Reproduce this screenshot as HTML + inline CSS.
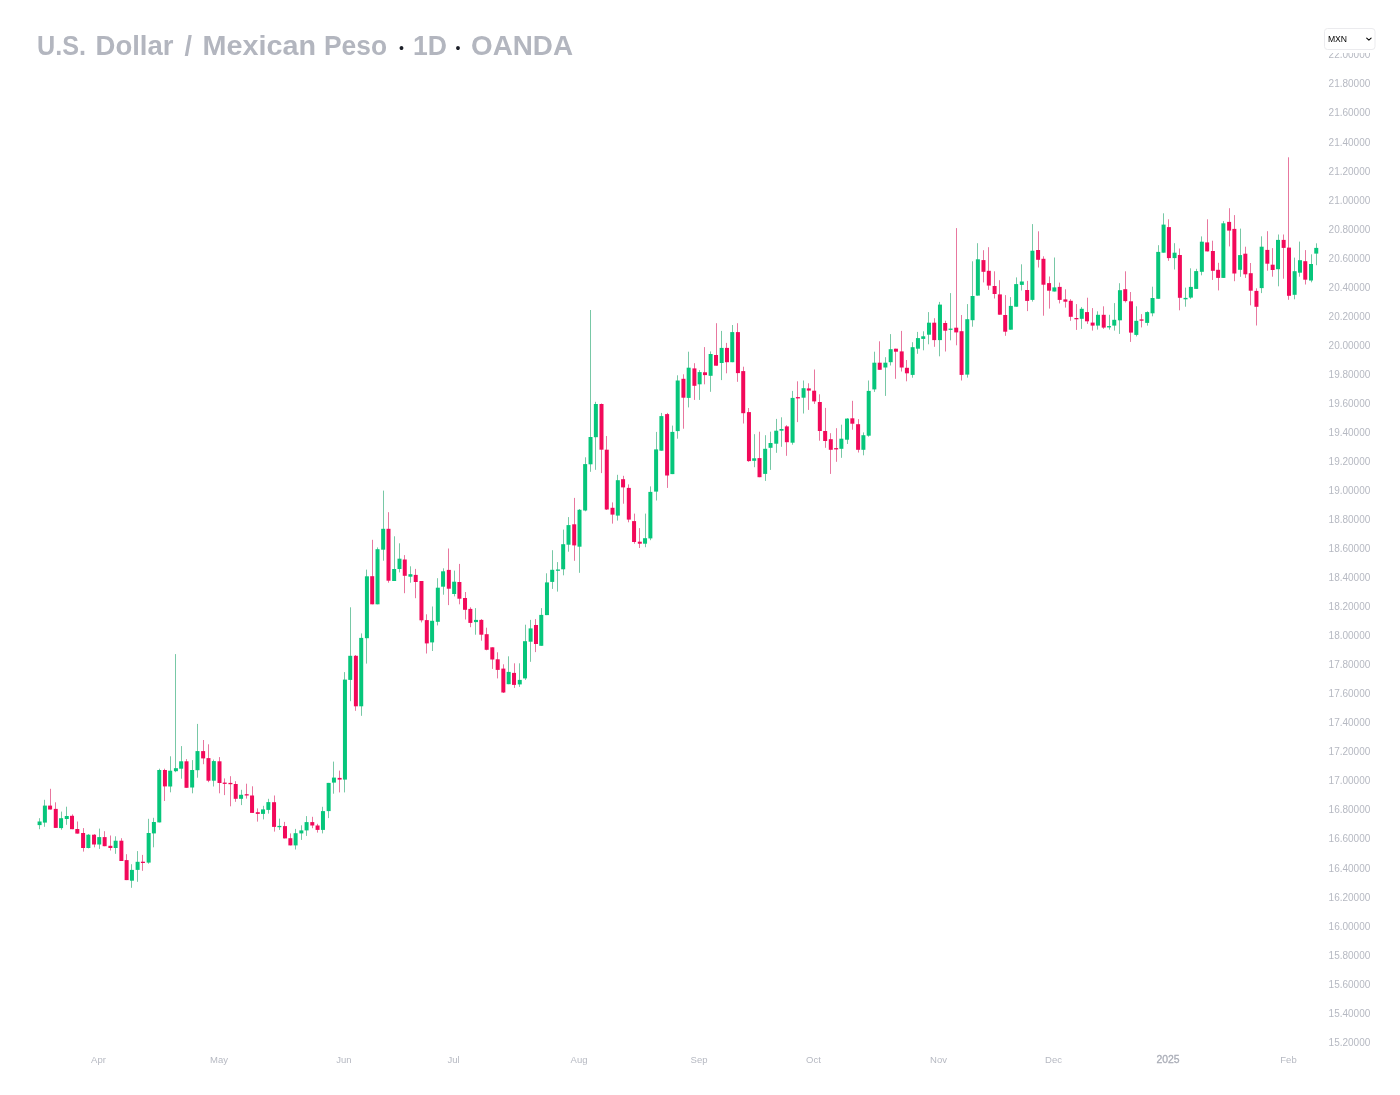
<!DOCTYPE html>
<html><head><meta charset="utf-8"><title>USDMXN</title>
<style>
html,body{margin:0;padding:0;background:#fff;}
body{width:1400px;height:1095px;position:relative;overflow:hidden;font-family:"Liberation Sans","DejaVu Sans",sans-serif;}
svg{position:absolute;left:0;top:0}
</style></head><body>
<svg width="1400" height="1095" viewBox="0 0 1400 1095" shape-rendering="auto">
<g fill="#78c8a6"><rect x="39" y="818.2" width="1" height="11.0"/><rect x="44" y="799.8" width="1" height="27.0"/><rect x="61" y="811.6" width="1" height="18.1"/><rect x="66" y="806.7" width="1" height="18.1"/><rect x="88" y="834.1" width="1" height="14.3"/><rect x="99" y="828.6" width="1" height="20.3"/><rect x="115" y="836.3" width="1" height="17.5"/><rect x="131" y="864.2" width="1" height="23.6"/><rect x="137" y="851.1" width="1" height="30.7"/><rect x="148" y="818.8" width="1" height="44.9"/><rect x="153" y="817.8" width="1" height="29.5"/><rect x="159" y="768.7" width="1" height="53.7"/><rect x="170" y="756.3" width="1" height="36.0"/><rect x="175" y="654.1" width="1" height="118.1"/><rect x="181" y="746.1" width="1" height="32.6"/><rect x="192" y="760.1" width="1" height="33.2"/><rect x="197" y="723.9" width="1" height="53.8"/><rect x="213" y="759.6" width="1" height="26.9"/><rect x="241" y="789.8" width="1" height="15.3"/><rect x="263" y="805.8" width="1" height="13.6"/><rect x="268" y="798.8" width="1" height="14.8"/><rect x="279" y="818.6" width="1" height="11.3"/><rect x="295" y="828.9" width="1" height="20.6"/><rect x="301" y="825.3" width="1" height="14.6"/><rect x="306" y="816.1" width="1" height="19.8"/><rect x="322" y="806.8" width="1" height="26.6"/><rect x="328" y="782.9" width="1" height="35.2"/><rect x="333" y="761.6" width="1" height="32.1"/><rect x="344" y="672.1" width="1" height="120.3"/><rect x="350" y="607.3" width="1" height="93.9"/><rect x="361" y="633.4" width="1" height="82.4"/><rect x="366" y="569.6" width="1" height="94.0"/><rect x="377" y="547.4" width="1" height="56.9"/><rect x="383" y="490.6" width="1" height="70.1"/><rect x="394" y="536.3" width="1" height="44.7"/><rect x="399" y="543.3" width="1" height="29.1"/><rect x="410" y="566.3" width="1" height="16.4"/><rect x="432" y="606.5" width="1" height="44.5"/><rect x="437" y="578.2" width="1" height="47.2"/><rect x="443" y="568.3" width="1" height="26.4"/><rect x="454" y="570.6" width="1" height="25.8"/><rect x="475" y="608.1" width="1" height="26.6"/><rect x="508" y="656.3" width="1" height="27.9"/><rect x="519" y="663.3" width="1" height="23.6"/><rect x="525" y="624.7" width="1" height="55.2"/><rect x="530" y="619.9" width="1" height="41.9"/><rect x="541" y="608.1" width="1" height="37.7"/><rect x="546" y="573.3" width="1" height="41.8"/><rect x="552" y="550.2" width="1" height="38.7"/><rect x="557" y="562.1" width="1" height="29.5"/><rect x="563" y="529.6" width="1" height="45.7"/><rect x="568" y="517.1" width="1" height="34.6"/><rect x="579" y="509.0" width="1" height="63.8"/><rect x="585" y="457.3" width="1" height="54.0"/><rect x="590" y="310.0" width="1" height="161.8"/><rect x="595" y="401.8" width="1" height="68.0"/><rect x="617" y="474.8" width="1" height="45.8"/><rect x="645" y="513.6" width="1" height="33.6"/><rect x="650" y="486.4" width="1" height="53.8"/><rect x="656" y="431.9" width="1" height="68.6"/><rect x="661" y="412.9" width="1" height="37.8"/><rect x="672" y="425.6" width="1" height="48.5"/><rect x="677" y="375.3" width="1" height="63.4"/><rect x="688" y="351.7" width="1" height="55.7"/><rect x="699" y="370.1" width="1" height="29.8"/><rect x="710" y="351.4" width="1" height="40.4"/><rect x="721" y="330.9" width="1" height="49.2"/><rect x="732" y="325.0" width="1" height="37.2"/><rect x="754" y="434.2" width="1" height="33.0"/><rect x="765" y="435.2" width="1" height="45.7"/><rect x="770" y="431.7" width="1" height="38.2"/><rect x="776" y="418.9" width="1" height="33.9"/><rect x="781" y="417.3" width="1" height="29.5"/><rect x="792" y="390.9" width="1" height="53.8"/><rect x="803" y="380.5" width="1" height="33.0"/><rect x="841" y="424.7" width="1" height="33.1"/><rect x="847" y="418.1" width="1" height="25.9"/><rect x="863" y="432.4" width="1" height="22.9"/><rect x="868" y="380.5" width="1" height="56.2"/><rect x="874" y="351.7" width="1" height="40.2"/><rect x="885" y="357.2" width="1" height="38.7"/><rect x="890" y="334.1" width="1" height="31.4"/><rect x="912" y="342.2" width="1" height="35.5"/><rect x="917" y="331.9" width="1" height="21.9"/><rect x="923" y="331.3" width="1" height="19.0"/><rect x="928" y="312.1" width="1" height="32.2"/><rect x="939" y="301.9" width="1" height="54.4"/><rect x="950" y="293.1" width="1" height="47.2"/><rect x="967" y="304.1" width="1" height="73.5"/><rect x="972" y="261.3" width="1" height="65.4"/><rect x="977" y="243.2" width="1" height="52.4"/><rect x="1010" y="297.1" width="1" height="32.6"/><rect x="1016" y="277.4" width="1" height="29.3"/><rect x="1021" y="264.3" width="1" height="26.2"/><rect x="1032" y="224.1" width="1" height="77.5"/><rect x="1054" y="257.5" width="1" height="34.0"/><rect x="1081" y="307.1" width="1" height="21.8"/><rect x="1097" y="311.3" width="1" height="18.3"/><rect x="1109" y="314.8" width="1" height="14.8"/><rect x="1114" y="303.1" width="1" height="27.5"/><rect x="1119" y="283.2" width="1" height="50.7"/><rect x="1136" y="306.3" width="1" height="30.1"/><rect x="1147" y="311.3" width="1" height="14.3"/><rect x="1152" y="286.7" width="1" height="29.6"/><rect x="1158" y="245.2" width="1" height="53.6"/><rect x="1163" y="213.3" width="1" height="39.4"/><rect x="1174" y="243.2" width="1" height="26.3"/><rect x="1185" y="287.6" width="1" height="19.1"/><rect x="1190" y="268.3" width="1" height="30.6"/><rect x="1196" y="268.8" width="1" height="20.1"/><rect x="1201" y="236.4" width="1" height="38.9"/><rect x="1223" y="221.1" width="1" height="56.8"/><rect x="1240" y="228.6" width="1" height="48.2"/><rect x="1261" y="236.3" width="1" height="56.8"/><rect x="1278" y="234.5" width="1" height="51.8"/><rect x="1294" y="257.6" width="1" height="41.7"/><rect x="1299" y="241.6" width="1" height="35.1"/><rect x="1311" y="254.3" width="1" height="28.0"/><rect x="1316" y="243.3" width="1" height="21.9"/></g><g fill="#e8779f"><rect x="50" y="788.8" width="1" height="20.7"/><rect x="55" y="802.3" width="1" height="25.6"/><rect x="72" y="814.4" width="1" height="14.8"/><rect x="77" y="821.5" width="1" height="12.1"/><rect x="83" y="828.1" width="1" height="23.5"/><rect x="94" y="834.1" width="1" height="13.2"/><rect x="104" y="831.2" width="1" height="15.0"/><rect x="110" y="835.5" width="1" height="15.0"/><rect x="121" y="838.2" width="1" height="22.8"/><rect x="126" y="854.2" width="1" height="25.9"/><rect x="142" y="854.9" width="1" height="15.9"/><rect x="164" y="768.7" width="1" height="32.3"/><rect x="186" y="759.1" width="1" height="28.7"/><rect x="203" y="740.0" width="1" height="24.2"/><rect x="208" y="744.3" width="1" height="37.9"/><rect x="219" y="757.1" width="1" height="36.2"/><rect x="224" y="778.4" width="1" height="16.7"/><rect x="230" y="776.2" width="1" height="30.1"/><rect x="235" y="781.2" width="1" height="20.6"/><rect x="246" y="783.7" width="1" height="14.9"/><rect x="252" y="786.3" width="1" height="26.6"/><rect x="257" y="808.4" width="1" height="13.2"/><rect x="274" y="795.5" width="1" height="36.1"/><rect x="284" y="821.9" width="1" height="16.5"/><rect x="290" y="833.4" width="1" height="12.0"/><rect x="312" y="816.8" width="1" height="11.4"/><rect x="317" y="823.8" width="1" height="8.8"/><rect x="339" y="770.6" width="1" height="21.8"/><rect x="355" y="655.0" width="1" height="55.8"/><rect x="372" y="539.8" width="1" height="64.5"/><rect x="388" y="512.2" width="1" height="70.5"/><rect x="404" y="555.1" width="1" height="38.1"/><rect x="415" y="568.9" width="1" height="29.3"/><rect x="421" y="581.0" width="1" height="41.4"/><rect x="426" y="614.3" width="1" height="39.2"/><rect x="448" y="548.5" width="1" height="56.6"/><rect x="459" y="563.9" width="1" height="40.4"/><rect x="465" y="592.0" width="1" height="27.5"/><rect x="470" y="607.3" width="1" height="19.9"/><rect x="481" y="619.1" width="1" height="21.6"/><rect x="486" y="627.7" width="1" height="22.6"/><rect x="492" y="647.3" width="1" height="21.6"/><rect x="497" y="652.3" width="1" height="26.1"/><rect x="503" y="664.3" width="1" height="28.7"/><rect x="514" y="663.3" width="1" height="24.6"/><rect x="535" y="619.1" width="1" height="33.0"/><rect x="574" y="497.9" width="1" height="62.9"/><rect x="601" y="403.5" width="1" height="69.6"/><rect x="606" y="436.0" width="1" height="74.0"/><rect x="612" y="502.4" width="1" height="21.2"/><rect x="623" y="475.8" width="1" height="27.9"/><rect x="628" y="484.4" width="1" height="37.9"/><rect x="634" y="513.6" width="1" height="30.1"/><rect x="639" y="528.1" width="1" height="19.9"/><rect x="667" y="412.9" width="1" height="75.0"/><rect x="683" y="374.3" width="1" height="54.4"/><rect x="694" y="363.2" width="1" height="36.7"/><rect x="704" y="347.1" width="1" height="37.2"/><rect x="716" y="323.2" width="1" height="42.5"/><rect x="726" y="342.9" width="1" height="30.4"/><rect x="737" y="323.2" width="1" height="58.6"/><rect x="743" y="366.7" width="1" height="56.8"/><rect x="748" y="408.0" width="1" height="53.8"/><rect x="759" y="431.7" width="1" height="45.5"/><rect x="786" y="425.2" width="1" height="30.6"/><rect x="797" y="381.3" width="1" height="40.8"/><rect x="808" y="383.3" width="1" height="26.6"/><rect x="814" y="369.5" width="1" height="34.4"/><rect x="819" y="394.3" width="1" height="46.4"/><rect x="825" y="407.9" width="1" height="39.9"/><rect x="830" y="433.2" width="1" height="40.7"/><rect x="836" y="428.2" width="1" height="33.6"/><rect x="852" y="400.8" width="1" height="28.9"/><rect x="858" y="419.1" width="1" height="33.4"/><rect x="879" y="341.3" width="1" height="28.5"/><rect x="895" y="348.7" width="1" height="30.1"/><rect x="901" y="330.9" width="1" height="40.6"/><rect x="906" y="360.0" width="1" height="21.3"/><rect x="934" y="318.2" width="1" height="28.6"/><rect x="945" y="320.7" width="1" height="30.8"/><rect x="956" y="228.1" width="1" height="117.2"/><rect x="961" y="315.0" width="1" height="65.5"/><rect x="983" y="250.2" width="1" height="32.2"/><rect x="988" y="247.2" width="1" height="42.7"/><rect x="994" y="271.3" width="1" height="27.2"/><rect x="999" y="280.2" width="1" height="34.5"/><rect x="1005" y="295.1" width="1" height="40.7"/><rect x="1027" y="280.9" width="1" height="30.2"/><rect x="1038" y="231.3" width="1" height="36.2"/><rect x="1043" y="256.3" width="1" height="59.4"/><rect x="1049" y="276.5" width="1" height="32.1"/><rect x="1059" y="282.6" width="1" height="20.8"/><rect x="1065" y="289.3" width="1" height="18.3"/><rect x="1070" y="299.2" width="1" height="21.6"/><rect x="1076" y="304.1" width="1" height="25.8"/><rect x="1087" y="297.7" width="1" height="26.2"/><rect x="1092" y="308.1" width="1" height="22.5"/><rect x="1103" y="306.3" width="1" height="22.6"/><rect x="1125" y="271.3" width="1" height="31.2"/><rect x="1130" y="292.0" width="1" height="49.9"/><rect x="1141" y="314.1" width="1" height="13.3"/><rect x="1168" y="219.3" width="1" height="41.5"/><rect x="1179" y="248.5" width="1" height="61.8"/><rect x="1207" y="219.3" width="1" height="32.1"/><rect x="1212" y="240.7" width="1" height="39.2"/><rect x="1218" y="262.8" width="1" height="27.6"/><rect x="1229" y="208.2" width="1" height="38.2"/><rect x="1234" y="215.1" width="1" height="66.1"/><rect x="1245" y="246.7" width="1" height="31.2"/><rect x="1250" y="263.0" width="1" height="42.3"/><rect x="1256" y="288.3" width="1" height="37.2"/><rect x="1267" y="231.2" width="1" height="39.5"/><rect x="1272" y="248.1" width="1" height="28.6"/><rect x="1283" y="234.5" width="1" height="44.2"/><rect x="1288" y="157.3" width="1" height="142.5"/><rect x="1305" y="250.1" width="1" height="34.4"/></g><g fill="#06c67b"><rect x="37.59" y="821.5" width="4.0" height="3.6"/><rect x="42.89" y="805.6" width="4.0" height="17.0"/><rect x="59.07" y="818.2" width="4.0" height="9.9"/><rect x="64.76" y="816.0" width="4.0" height="3.0"/><rect x="86.35" y="834.7" width="4.0" height="13.3"/><rect x="97.23" y="837.1" width="4.0" height="7.4"/><rect x="113.64" y="840.7" width="4.0" height="7.3"/><rect x="129.93" y="869.9" width="4.0" height="10.8"/><rect x="135.61" y="861.8" width="4.0" height="8.1"/><rect x="146.66" y="833.0" width="4.0" height="29.6"/><rect x="151.89" y="822.0" width="4.0" height="11.4"/><rect x="157.26" y="770.0" width="4.0" height="52.4"/><rect x="168.19" y="770.7" width="4.0" height="15.8"/><rect x="173.93" y="768.2" width="4.0" height="3.0"/><rect x="179.17" y="761.3" width="4.0" height="7.4"/><rect x="190.15" y="770.0" width="4.0" height="17.5"/><rect x="195.49" y="751.1" width="4.0" height="19.1"/><rect x="211.86" y="761.1" width="4.0" height="19.6"/><rect x="239.06" y="794.8" width="4.0" height="4.0"/><rect x="261.02" y="809.4" width="4.0" height="4.5"/><rect x="266.37" y="802.1" width="4.0" height="7.8"/><rect x="277.37" y="825.9" width="4.0" height="1.3"/><rect x="293.61" y="833.2" width="4.0" height="12.2"/><rect x="299.35" y="830.4" width="4.0" height="3.0"/><rect x="304.59" y="822.1" width="4.0" height="8.3"/><rect x="320.96" y="811.1" width="4.0" height="18.8"/><rect x="326.65" y="782.9" width="4.0" height="28.2"/><rect x="331.94" y="777.6" width="4.0" height="5.0"/><rect x="342.94" y="679.6" width="4.0" height="100.0"/><rect x="348.24" y="655.8" width="4.0" height="24.1"/><rect x="359.22" y="637.9" width="4.0" height="68.4"/><rect x="364.91" y="576.3" width="4.0" height="61.9"/><rect x="375.53" y="549.2" width="4.0" height="55.1"/><rect x="381.17" y="528.8" width="4.0" height="20.9"/><rect x="392.15" y="569.0" width="4.0" height="12.0"/><rect x="397.49" y="558.7" width="4.0" height="10.3"/><rect x="408.42" y="574.2" width="4.0" height="2.5"/><rect x="430.09" y="620.8" width="4.0" height="21.6"/><rect x="435.83" y="587.7" width="4.0" height="34.1"/><rect x="441.07" y="571.3" width="4.0" height="15.4"/><rect x="452.15" y="581.7" width="4.0" height="12.3"/><rect x="473.99" y="619.9" width="4.0" height="2.2"/><rect x="506.68" y="671.9" width="4.0" height="12.3"/><rect x="517.76" y="679.9" width="4.0" height="4.5"/><rect x="523.00" y="641.2" width="4.0" height="37.2"/><rect x="528.64" y="628.4" width="4.0" height="13.3"/><rect x="539.27" y="614.9" width="4.0" height="30.9"/><rect x="544.96" y="582.4" width="4.0" height="32.7"/><rect x="550.20" y="569.8" width="4.0" height="12.1"/><rect x="555.95" y="569.5" width="4.0" height="1.3"/><rect x="561.18" y="544.2" width="4.0" height="25.1"/><rect x="566.52" y="525.1" width="4.0" height="19.6"/><rect x="577.51" y="509.8" width="4.0" height="36.9"/><rect x="583.14" y="464.1" width="4.0" height="46.4"/><rect x="588.54" y="437.0" width="4.0" height="27.3"/><rect x="593.86" y="404.0" width="4.0" height="33.2"/><rect x="615.83" y="480.2" width="4.0" height="35.4"/><rect x="643.04" y="538.2" width="4.0" height="5.5"/><rect x="648.37" y="491.9" width="4.0" height="46.5"/><rect x="654.10" y="449.4" width="4.0" height="42.2"/><rect x="659.39" y="416.1" width="4.0" height="34.6"/><rect x="670.38" y="431.9" width="4.0" height="42.2"/><rect x="675.70" y="380.5" width="4.0" height="50.6"/><rect x="686.67" y="367.7" width="4.0" height="30.2"/><rect x="697.65" y="372.1" width="4.0" height="12.2"/><rect x="708.63" y="354.0" width="4.0" height="21.8"/><rect x="719.66" y="347.9" width="4.0" height="15.1"/><rect x="730.24" y="332.1" width="4.0" height="30.1"/><rect x="752.17" y="458.3" width="4.0" height="2.5"/><rect x="763.15" y="448.8" width="4.0" height="25.1"/><rect x="768.54" y="443.0" width="4.0" height="4.8"/><rect x="774.24" y="430.7" width="4.0" height="13.0"/><rect x="779.52" y="429.0" width="4.0" height="1.7"/><rect x="790.59" y="397.9" width="4.0" height="44.8"/><rect x="801.57" y="388.2" width="4.0" height="9.5"/><rect x="839.37" y="438.7" width="4.0" height="10.1"/><rect x="845.01" y="418.6" width="4.0" height="21.1"/><rect x="861.38" y="435.2" width="4.0" height="14.6"/><rect x="866.71" y="390.9" width="4.0" height="44.8"/><rect x="872.33" y="362.7" width="4.0" height="26.7"/><rect x="883.37" y="362.7" width="4.0" height="4.8"/><rect x="888.70" y="349.2" width="4.0" height="13.0"/><rect x="910.64" y="347.2" width="4.0" height="27.7"/><rect x="915.95" y="338.1" width="4.0" height="10.6"/><rect x="921.24" y="336.3" width="4.0" height="2.6"/><rect x="926.98" y="322.7" width="4.0" height="12.0"/><rect x="937.96" y="304.6" width="4.0" height="35.5"/><rect x="948.59" y="328.6" width="4.0" height="1.3"/><rect x="965.27" y="319.2" width="4.0" height="55.4"/><rect x="970.57" y="296.0" width="4.0" height="24.2"/><rect x="975.87" y="259.3" width="4.0" height="36.3"/><rect x="1008.84" y="305.9" width="4.0" height="23.8"/><rect x="1014.15" y="284.1" width="4.0" height="22.6"/><rect x="1019.84" y="281.5" width="4.0" height="3.4"/><rect x="1030.42" y="250.7" width="4.0" height="49.2"/><rect x="1052.35" y="287.4" width="4.0" height="4.1"/><rect x="1079.77" y="308.8" width="4.0" height="10.0"/><rect x="1095.99" y="314.8" width="4.0" height="10.8"/><rect x="1107.01" y="326.1" width="4.0" height="1.3"/><rect x="1112.25" y="319.8" width="4.0" height="5.8"/><rect x="1117.95" y="290.2" width="4.0" height="30.1"/><rect x="1134.32" y="320.8" width="4.0" height="14.1"/><rect x="1145.15" y="312.1" width="4.0" height="10.8"/><rect x="1150.54" y="298.0" width="4.0" height="15.3"/><rect x="1156.23" y="251.9" width="4.0" height="46.9"/><rect x="1161.58" y="224.6" width="4.0" height="28.1"/><rect x="1172.56" y="252.7" width="4.0" height="5.4"/><rect x="1183.54" y="297.9" width="4.0" height="1.4"/><rect x="1188.88" y="286.9" width="4.0" height="10.7"/><rect x="1194.17" y="271.1" width="4.0" height="17.8"/><rect x="1199.86" y="241.7" width="4.0" height="30.1"/><rect x="1221.37" y="223.3" width="4.0" height="54.6"/><rect x="1238.05" y="255.1" width="4.0" height="14.7"/><rect x="1259.67" y="246.7" width="4.0" height="41.4"/><rect x="1276.01" y="239.9" width="4.0" height="29.3"/><rect x="1292.63" y="271.2" width="4.0" height="23.6"/><rect x="1297.98" y="260.2" width="4.0" height="12.5"/><rect x="1309.00" y="264.0" width="4.0" height="16.5"/><rect x="1314.25" y="247.9" width="4.0" height="5.7"/></g><g fill="#f2095a"><rect x="48.08" y="805.6" width="4.0" height="3.9"/><rect x="53.77" y="808.9" width="4.0" height="19.0"/><rect x="70.01" y="815.8" width="4.0" height="13.4"/><rect x="75.31" y="829.0" width="4.0" height="4.6"/><rect x="81.10" y="833.0" width="4.0" height="15.0"/><rect x="92.04" y="834.7" width="4.0" height="9.8"/><rect x="102.64" y="837.1" width="4.0" height="9.1"/><rect x="108.39" y="845.8" width="4.0" height="2.2"/><rect x="119.38" y="840.7" width="4.0" height="20.3"/><rect x="124.62" y="860.1" width="4.0" height="20.0"/><rect x="140.92" y="861.7" width="4.0" height="1.3"/><rect x="162.92" y="770.0" width="4.0" height="16.4"/><rect x="184.51" y="761.3" width="4.0" height="26.5"/><rect x="201.13" y="751.1" width="4.0" height="7.3"/><rect x="206.47" y="758.1" width="4.0" height="22.6"/><rect x="217.50" y="761.3" width="4.0" height="21.7"/><rect x="222.69" y="782.6" width="4.0" height="1.3"/><rect x="228.44" y="782.9" width="4.0" height="1.3"/><rect x="233.72" y="784.0" width="4.0" height="14.8"/><rect x="244.70" y="794.2" width="4.0" height="1.3"/><rect x="250.05" y="795.5" width="4.0" height="17.4"/><rect x="255.78" y="812.2" width="4.0" height="1.7"/><rect x="272.05" y="802.2" width="4.0" height="24.7"/><rect x="282.98" y="826.1" width="4.0" height="12.3"/><rect x="288.37" y="838.2" width="4.0" height="7.2"/><rect x="310.28" y="822.1" width="4.0" height="3.4"/><rect x="315.57" y="825.5" width="4.0" height="4.4"/><rect x="337.64" y="777.9" width="4.0" height="1.7"/><rect x="353.88" y="655.8" width="4.0" height="50.5"/><rect x="370.19" y="576.2" width="4.0" height="28.1"/><rect x="386.51" y="528.8" width="4.0" height="51.9"/><rect x="402.76" y="559.5" width="4.0" height="16.3"/><rect x="413.72" y="574.9" width="4.0" height="7.1"/><rect x="419.46" y="581.0" width="4.0" height="39.3"/><rect x="424.80" y="620.1" width="4.0" height="23.3"/><rect x="446.82" y="569.9" width="4.0" height="18.8"/><rect x="457.39" y="582.0" width="4.0" height="16.7"/><rect x="463.02" y="598.0" width="4.0" height="11.8"/><rect x="468.35" y="608.9" width="4.0" height="14.0"/><rect x="479.33" y="619.9" width="4.0" height="14.8"/><rect x="484.67" y="634.2" width="4.0" height="15.6"/><rect x="490.31" y="647.3" width="4.0" height="12.2"/><rect x="495.70" y="659.3" width="4.0" height="10.6"/><rect x="501.34" y="668.6" width="4.0" height="23.9"/><rect x="512.02" y="672.9" width="4.0" height="12.0"/><rect x="533.99" y="625.0" width="4.0" height="19.0"/><rect x="572.21" y="524.3" width="4.0" height="21.1"/><rect x="599.50" y="404.0" width="4.0" height="45.7"/><rect x="604.77" y="449.7" width="4.0" height="59.8"/><rect x="610.51" y="507.8" width="4.0" height="6.8"/><rect x="621.07" y="479.2" width="4.0" height="8.2"/><rect x="626.81" y="487.9" width="4.0" height="31.7"/><rect x="632.06" y="521.1" width="4.0" height="20.9"/><rect x="637.80" y="541.7" width="4.0" height="2.0"/><rect x="665.09" y="414.1" width="4.0" height="61.4"/><rect x="681.42" y="378.8" width="4.0" height="18.9"/><rect x="692.41" y="368.4" width="4.0" height="17.4"/><rect x="702.99" y="372.3" width="4.0" height="2.8"/><rect x="714.02" y="355.0" width="4.0" height="10.7"/><rect x="725.00" y="347.9" width="4.0" height="14.3"/><rect x="735.93" y="332.1" width="4.0" height="41.0"/><rect x="741.22" y="371.1" width="4.0" height="42.1"/><rect x="746.95" y="412.1" width="4.0" height="49.0"/><rect x="757.52" y="458.1" width="4.0" height="19.1"/><rect x="784.86" y="426.4" width="4.0" height="15.8"/><rect x="795.91" y="397.1" width="4.0" height="1.3"/><rect x="806.81" y="388.4" width="4.0" height="2.2"/><rect x="812.15" y="390.7" width="4.0" height="10.7"/><rect x="817.82" y="402.0" width="4.0" height="29.0"/><rect x="823.15" y="431.0" width="4.0" height="10.0"/><rect x="828.79" y="439.2" width="4.0" height="10.6"/><rect x="834.13" y="448.1" width="4.0" height="1.3"/><rect x="850.35" y="418.3" width="4.0" height="5.4"/><rect x="856.09" y="424.2" width="4.0" height="25.6"/><rect x="877.72" y="362.7" width="4.0" height="7.1"/><rect x="893.94" y="348.7" width="4.0" height="3.0"/><rect x="899.69" y="351.4" width="4.0" height="16.1"/><rect x="904.93" y="367.8" width="4.0" height="5.5"/><rect x="932.22" y="322.7" width="4.0" height="17.4"/><rect x="943.20" y="323.0" width="4.0" height="7.7"/><rect x="954.22" y="327.7" width="4.0" height="4.7"/><rect x="959.57" y="331.2" width="4.0" height="43.7"/><rect x="981.47" y="260.1" width="4.0" height="11.7"/><rect x="986.81" y="270.8" width="4.0" height="14.8"/><rect x="992.59" y="286.0" width="4.0" height="8.0"/><rect x="997.88" y="294.4" width="4.0" height="20.3"/><rect x="1003.20" y="315.0" width="4.0" height="16.7"/><rect x="1025.13" y="290.0" width="4.0" height="10.9"/><rect x="1036.08" y="250.0" width="4.0" height="9.8"/><rect x="1041.45" y="258.8" width="4.0" height="25.9"/><rect x="1047.04" y="283.1" width="4.0" height="7.6"/><rect x="1057.70" y="286.9" width="4.0" height="13.0"/><rect x="1063.38" y="299.4" width="4.0" height="2.3"/><rect x="1068.78" y="300.8" width="4.0" height="16.0"/><rect x="1074.42" y="318.0" width="4.0" height="1.3"/><rect x="1085.00" y="312.1" width="4.0" height="9.2"/><rect x="1090.64" y="322.6" width="4.0" height="3.0"/><rect x="1101.73" y="314.8" width="4.0" height="12.8"/><rect x="1123.24" y="289.2" width="4.0" height="11.9"/><rect x="1128.98" y="301.3" width="4.0" height="31.3"/><rect x="1139.56" y="319.4" width="4.0" height="1.3"/><rect x="1166.92" y="227.1" width="4.0" height="31.0"/><rect x="1177.89" y="255.0" width="4.0" height="42.8"/><rect x="1205.15" y="242.4" width="4.0" height="9.0"/><rect x="1210.89" y="251.0" width="4.0" height="19.8"/><rect x="1216.13" y="269.8" width="4.0" height="8.1"/><rect x="1227.11" y="221.9" width="4.0" height="8.7"/><rect x="1232.35" y="228.9" width="4.0" height="44.6"/><rect x="1243.33" y="253.7" width="4.0" height="20.6"/><rect x="1248.74" y="273.2" width="4.0" height="17.5"/><rect x="1254.44" y="290.9" width="4.0" height="15.9"/><rect x="1265.33" y="249.9" width="4.0" height="13.8"/><rect x="1270.67" y="264.7" width="4.0" height="5.3"/><rect x="1281.65" y="239.9" width="4.0" height="8.0"/><rect x="1286.99" y="247.6" width="4.0" height="48.2"/><rect x="1303.26" y="261.2" width="4.0" height="18.5"/></g>
<g font-family="Liberation Sans, DejaVu Sans, sans-serif" font-size="10" fill="#b6b9c2"><text x="1328.6" y="1045.7">15.20000</text><text x="1328.6" y="1016.7">15.40000</text><text x="1328.6" y="987.6">15.60000</text><text x="1328.6" y="958.6">15.80000</text><text x="1328.6" y="929.5">16.00000</text><text x="1328.6" y="900.5">16.20000</text><text x="1328.6" y="871.5">16.40000</text><text x="1328.6" y="842.4">16.60000</text><text x="1328.6" y="813.4">16.80000</text><text x="1328.6" y="784.3">17.00000</text><text x="1328.6" y="755.3">17.20000</text><text x="1328.6" y="726.3">17.40000</text><text x="1328.6" y="697.2">17.60000</text><text x="1328.6" y="668.2">17.80000</text><text x="1328.6" y="639.1">18.00000</text><text x="1328.6" y="610.1">18.20000</text><text x="1328.6" y="581.1">18.40000</text><text x="1328.6" y="552.0">18.60000</text><text x="1328.6" y="523.0">18.80000</text><text x="1328.6" y="493.9">19.00000</text><text x="1328.6" y="464.9">19.20000</text><text x="1328.6" y="435.9">19.40000</text><text x="1328.6" y="406.8">19.60000</text><text x="1328.6" y="377.8">19.80000</text><text x="1328.6" y="348.7">20.00000</text><text x="1328.6" y="319.7">20.20000</text><text x="1328.6" y="290.7">20.40000</text><text x="1328.6" y="261.6">20.60000</text><text x="1328.6" y="232.6">20.80000</text><text x="1328.6" y="203.5">21.00000</text><text x="1328.6" y="174.5">21.20000</text><text x="1328.6" y="145.5">21.40000</text><text x="1328.6" y="116.4">21.60000</text><text x="1328.6" y="87.4">21.80000</text><text x="1328.6" y="58.3">22.00000</text></g>
<g font-family="Liberation Sans, DejaVu Sans, sans-serif" font-size="9.5" fill="#b6b9c2"><text x="98.5" y="1063" text-anchor="middle">Apr</text><text x="219" y="1063" text-anchor="middle">May</text><text x="344" y="1063" text-anchor="middle">Jun</text><text x="453.5" y="1063" text-anchor="middle">Jul</text><text x="579" y="1063" text-anchor="middle">Aug</text><text x="699" y="1063" text-anchor="middle">Sep</text><text x="813.5" y="1063" text-anchor="middle">Oct</text><text x="938.5" y="1063" text-anchor="middle">Nov</text><text x="1053.5" y="1063" text-anchor="middle">Dec</text><text x="1168" y="1063" text-anchor="middle" font-size="10.4" fill="#aaadb7" stroke="#aaadb7" stroke-width="0.3">2025</text><text x="1288.5" y="1063" text-anchor="middle">Feb</text></g>
<g font-family="Liberation Sans, DejaVu Sans, sans-serif" font-size="27.4" font-weight="bold" fill="#b3b6bf">
<text x="37" y="54.9" textLength="49" lengthAdjust="spacingAndGlyphs">U.S.</text>
<text x="95.5" y="54.9" textLength="78" lengthAdjust="spacingAndGlyphs">Dollar</text>
<text x="184.5" y="54.9" textLength="7.5" lengthAdjust="spacingAndGlyphs">/</text>
<text x="202.5" y="54.9" textLength="113.5" lengthAdjust="spacingAndGlyphs">Mexican</text>
<text x="324" y="54.9" textLength="63" lengthAdjust="spacingAndGlyphs">Peso</text>
<text x="413" y="54.9" textLength="34" lengthAdjust="spacingAndGlyphs">1D</text>
<text x="471" y="54.9" textLength="102" lengthAdjust="spacingAndGlyphs">OANDA</text>
</g>
<g font-family="Liberation Sans, DejaVu Sans, sans-serif" font-size="14.2" fill="#1c1f28" text-anchor="middle"><text x="401.5" y="53.1">&#8226;</text><text x="458" y="53.1">&#8226;</text></g>
<rect x="1321" y="24" width="57.5" height="29" fill="#fff"/>
<rect x="1324.5" y="28.5" width="50.5" height="21" rx="3" ry="3" fill="#fff" stroke="#ebebee" stroke-width="1"/>
<text x="1327.9" y="41.5" font-family="Liberation Sans, DejaVu Sans, sans-serif" font-size="9.6" fill="#000" textLength="19.2" lengthAdjust="spacingAndGlyphs">MXN</text>
<path d="M1366.7 38.2 L1368.9 40.1 L1371.1 38.2" fill="none" stroke="#000" stroke-width="1.1" stroke-linecap="round" stroke-linejoin="round"/>
</svg>
</body></html>
